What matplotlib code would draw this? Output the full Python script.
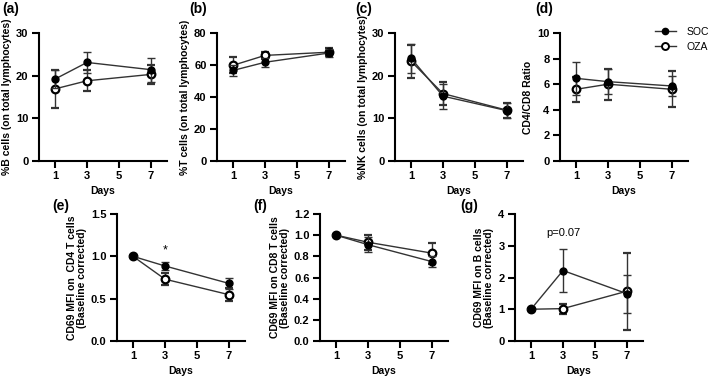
import matplotlib
matplotlib.use("Agg")
import matplotlib.pyplot as plt
from matplotlib.lines import Line2D

plt.rcParams['font.family'] = ['Liberation Sans', 'DejaVu Sans']

days = [1, 3, 7]
x_ticks = [1, 3, 5, 7]

# (a) %B cells
a_soc = [19.2, 23.1, 21.4]
a_soc_err = [2.1, 2.4, 2.8]
a_oza = [16.9, 18.8, 20.3]
a_oza_err = [4.4, 2.5, 2.3]

# (b) %T cells
b_soc = [56.6, 61.7, 67.5]
b_soc_err = [3.3, 2.7, 2.8]
b_oza = [59.8, 66.0, 68.0]
b_oza_err = [5.0, 2.4, 2.5]

# (c) %NK cells
c_soc = [24.1, 15.2, 11.8]
c_soc_err = [3.4, 2.9, 1.8]
c_oza = [23.4, 15.8, 11.9]
c_oza_err = [3.9, 2.6, 1.8]

# (d) CD4/CD8 ratio
d_soc = [6.46, 6.2, 5.86]
d_soc_err = [1.3, 1.0, 0.8]
d_oza = [5.6, 6.0, 5.6]
d_oza_err = [1.0, 1.2, 1.4]

# (e) CD69 MFI on CD4 T cells
e_soc = [1.0, 0.886, 0.68]
e_soc_err = [0.0, 0.05, 0.06]
e_oza = [1.0, 0.73, 0.547]
e_oza_err = [0.0, 0.07, 0.08]

# (f) CD69 MFI on CD8 T cells
f_soc = [1.0, 0.91, 0.75]
f_soc_err = [0.0, 0.07, 0.05]
f_oza = [1.0, 0.933, 0.83]
f_oza_err = [0.0, 0.07, 0.10]

# (g) CD69 MFI on B cells
g_soc = [1.0, 2.22, 1.49]
g_soc_err = [0.0, 0.68, 0.6]
g_oza = [1.0, 1.02, 1.57]
g_oza_err = [0.0, 0.16, 1.21]

panels = [
    ("(a)", "%B cells (on total lymphocytes)", a_soc, a_soc_err, a_oza, a_oza_err, [0, 10, 20, 30], "{:.0f}"),
    ("(b)", "%T cells (on total lymphocytes)", b_soc, b_soc_err, b_oza, b_oza_err, [0, 20, 40, 60, 80], "{:.0f}"),
    ("(c)", "%NK cells (on total lymphocytes)", c_soc, c_soc_err, c_oza, c_oza_err, [0, 10, 20, 30], "{:.0f}"),
    ("(d)", "CD4/CD8 Ratio", d_soc, d_soc_err, d_oza, d_oza_err, [0, 2, 4, 6, 8, 10], "{:.0f}"),
    ("(e)", "CD69 MFI on  CD4 T cells\n(Baseline corrected)", e_soc, e_soc_err, e_oza, e_oza_err, [0, 0.5, 1.0, 1.5], "{:.1f}"),
    ("(f)", "CD69 MFI on CD8 T cells\n(Baseline corrected)", f_soc, f_soc_err, f_oza, f_oza_err, [0, 0.2, 0.4, 0.6, 0.8, 1.0, 1.2], "{:.1f}"),
    ("(g)", "CD69 MFI on B cells\n(Baseline corrected)", g_soc, g_soc_err, g_oza, g_oza_err, [0, 1, 2, 3, 4], "{:.0f}"),
]

W, H = 709, 378
fig = plt.figure(figsize=(W / 100, H / 100), dpi=100)

lefts = [39, 217, 395, 560, 117, 320, 515]
tops = [33, 33, 33, 33, 214, 214, 214]
bottoms = [161, 161, 161, 161, 341, 341, 341]
letter_pos = [(2, 9), (189, 9), (355, 9), (535, 9), (52, 206), (253, 206), (460, 206)]
axw = 128

line_col = '#333333'
FS = 8
for i, (letter, ylabel, soc, soc_e, oza, oza_e, yt, fmt) in enumerate(panels):
    l, t, b = lefts[i], tops[i], bottoms[i]
    ax = fig.add_axes([l / W, 1 - b / H, axw / W, (b - t) / H])
    ax.errorbar(days, oza, yerr=oza_e, color=line_col, lw=1.0, marker='o', ms=5.5,
                mfc='white', mec='black', mew=1.6, ecolor=line_col, elinewidth=1.0,
                capsize=3, capthick=1.0, zorder=3)
    ax.errorbar(days, soc, yerr=soc_e, color=line_col, lw=1.0, marker='o', ms=5,
                mfc='black', mec='black', ecolor=line_col, elinewidth=1.0,
                capsize=3, capthick=1.0, zorder=4)
    ax.set_xlim(0, 8)
    ax.set_ylim(yt[0], yt[-1])
    ax.set_xticks(x_ticks)
    ax.set_yticks(yt)
    ax.set_yticklabels([fmt.format(v) for v in yt])
    for s in ['top', 'right']:
        ax.spines[s].set_visible(False)
    for s in ['left', 'bottom']:
        ax.spines[s].set_linewidth(1.5)
    ax.tick_params(direction='out', length=5, width=1.5, labelsize=FS, pad=2.5)
    for lab in ax.get_xticklabels() + ax.get_yticklabels():
        lab.set_fontweight('bold')
    ax.set_ylabel(ylabel, fontsize=7.5, fontweight='bold', labelpad=3, linespacing=1.0)
    ax.set_xlabel("Days", fontsize=7.5, fontweight='bold', labelpad=3)
    ax.patch.set_alpha(0)
    fig.text(letter_pos[i][0] / W, 1 - letter_pos[i][1] / H, letter, fontsize=10,
             fontweight='bold', va='center', ha='left')
    if letter == "(e)":
        ax.text(3, 1.07, "*", ha='center', va='center', fontsize=9)
    if letter == "(g)":
        ax.text(3, 3.4, "p=0.07", ha='center', va='center', fontsize=FS)
    if letter == "(d)":
        handles = [
            Line2D([], [], color=line_col, lw=1.0, marker='o', ms=4.5, mfc='black', mec='black'),
            Line2D([], [], color=line_col, lw=1.0, marker='o', ms=5, mfc='white', mec='black', mew=1.4),
        ]
        fig.legend(handles, ["SOC", "OZA"], loc='upper left',
                   bbox_to_anchor=(655 / W, 1 - 27 / H), frameon=False, fontsize=7.5,
                   borderaxespad=0, borderpad=0,
                   handlelength=2.0, handletextpad=1.0, labelspacing=0.45)

fig.savefig("out.png", dpi=100)
